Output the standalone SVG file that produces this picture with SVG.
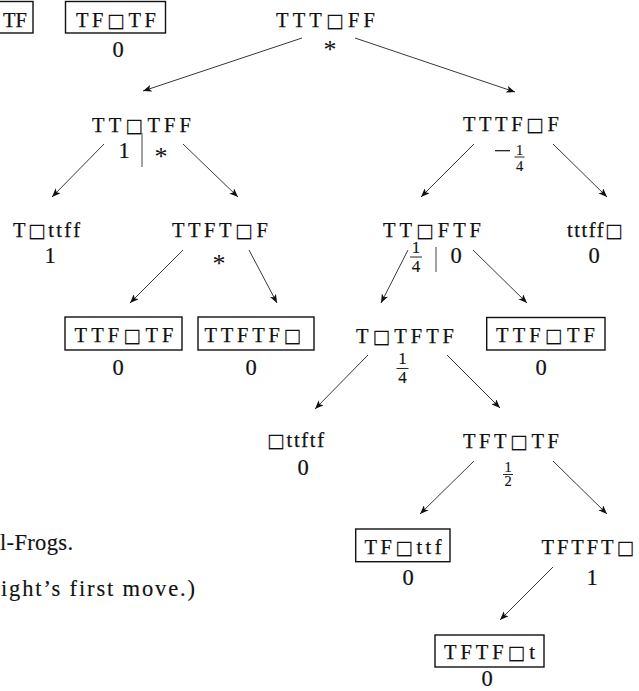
<svg xmlns="http://www.w3.org/2000/svg" width="639" height="691" viewBox="0 0 639 691">
<style>
.lb{font-family:"Liberation Serif","DejaVu Serif",serif;font-size:20.5px;fill:#111;stroke:#111;stroke-width:0.25;text-anchor:middle}
.sq{font-family:"DejaVu Sans",sans-serif;font-size:19px;stroke-width:0.1}
.v{font-family:"Liberation Serif","DejaVu Serif",serif;font-size:22.5px;fill:#111;stroke:#111;stroke-width:0.2;text-anchor:middle}
.ast{font-family:"Liberation Serif","DejaVu Serif",serif;font-size:26px;fill:#111;text-anchor:middle}
.fr{font-family:"Liberation Serif","DejaVu Serif",serif;font-size:17px;fill:#111;stroke:#111;stroke-width:0.15;text-anchor:middle}
.fs{font-family:"Liberation Serif","DejaVu Serif",serif;font-size:14.5px;fill:#111;stroke:#111;stroke-width:0.15;text-anchor:middle}
.cap{font-family:"Liberation Serif","DejaVu Serif",serif;font-size:22.5px;fill:#111;stroke:#111;stroke-width:0.15}
.box{fill:none;stroke:#111;stroke-width:1.4}
.bar{stroke:#444;stroke-width:1}
.fb{stroke:#111;stroke-width:0.9}
.e{stroke:#222;stroke-width:0.9;fill:none;marker-end:url(#ah)}
</style>
<defs>
<marker id="ah" viewBox="0 0 10 8" refX="10" refY="4" markerWidth="10" markerHeight="7" markerUnits="userSpaceOnUse" orient="auto">
<path d="M0,0 L10,4 L0,8 L2.5,4 z" fill="#111"/>
</marker>
</defs>
<g id="connectors">
<line class="e" x1="302" y1="38" x2="143" y2="91"/>
<line class="e" x1="355" y1="38" x2="515" y2="92"/>
<line class="e" x1="104" y1="144" x2="52" y2="197"/>
<line class="e" x1="183" y1="144" x2="238" y2="197"/>
<line class="e" x1="474" y1="144" x2="421" y2="197"/>
<line class="e" x1="553" y1="144" x2="607" y2="197"/>
<line class="e" x1="183" y1="250" x2="130" y2="303"/>
<line class="e" x1="249" y1="250" x2="277" y2="303"/>
<line class="e" x1="408" y1="250" x2="381" y2="303"/>
<line class="e" x1="473" y1="250" x2="527" y2="303"/>
<line class="e" x1="368" y1="355" x2="315" y2="409"/>
<line class="e" x1="447" y1="355" x2="500" y2="408"/>
<line class="e" x1="474" y1="461" x2="420" y2="514"/>
<line class="e" x1="553" y1="461" x2="607" y2="514"/>
<line class="e" x1="553" y1="567" x2="500" y2="620"/>
</g>
<g id="n-tf-partial">
<rect class="box" x="-10" y="1.5" width="43" height="31.5"/>
<text class="lb" x="27" y="27.3" style="text-anchor:end">TF</text>
</g>
<g id="n-tf-sq-tf">
<rect class="box" x="65.5" y="1.5" width="100" height="31.5"/>
<text class="lb" x="116" y="27.3" textLength="80" lengthAdjust="spacing">TF<tspan class="sq">□</tspan>TF</text>
<text class="v" x="118" y="57">0</text>
</g>
<g id="n-root">
<text class="lb" x="325.5" y="27" textLength="99" lengthAdjust="spacing">TTT<tspan class="sq">□</tspan>FF</text>
<text class="ast" x="330" y="58">*</text>
</g>
<g id="n-tt-sq-tff">
<text class="lb" x="141.5" y="131.5" textLength="99" lengthAdjust="spacing">TT<tspan class="sq">□</tspan>TFF</text>
<text class="v" x="124" y="158">1</text>
<line class="bar" x1="142" y1="133" x2="142" y2="167"/>
<text class="ast" x="161" y="165">*</text>
</g>
<g id="n-tttf-sq-f">
<text class="lb" x="511" y="131" textLength="96" lengthAdjust="spacing">TTTF<tspan class="sq">□</tspan>F</text>
<line class="fb" x1="495" y1="150.7" x2="510" y2="150.7" style="stroke-width:1.2"/>
<text class="fs"><tspan x="519.5" y="154.5">1</tspan><tspan x="519.5" y="170.5">4</tspan></text>
<line class="fb" x1="514.5" y1="157" x2="524.5" y2="157"/>
</g>
<g id="n-t-sq-ttff">
<text class="lb" x="46.5" y="236.7" textLength="67" lengthAdjust="spacing">T<tspan class="sq">□</tspan>ttff</text>
<text class="v" x="50" y="263">1</text>
</g>
<g id="n-ttft-sq-f">
<text class="lb" x="220" y="236.7" textLength="96" lengthAdjust="spacing">TTFT<tspan class="sq">□</tspan>F</text>
<text class="ast" x="219" y="272">*</text>
</g>
<g id="n-tt-sq-ftf">
<text class="lb" x="432" y="236.7" textLength="98" lengthAdjust="spacing">TT<tspan class="sq">□</tspan>FTF</text>
<text class="fr"><tspan x="416" y="253">1</tspan><tspan x="416" y="272">4</tspan></text>
<line class="fb" x1="410" y1="257" x2="422" y2="257"/>
<line class="bar" x1="436" y1="247" x2="436" y2="272"/>
<text class="v" x="456" y="263">0</text>
</g>
<g id="n-tttff-sq">
<text class="lb" x="595" y="236.7" textLength="56" lengthAdjust="spacing">tttff<tspan class="sq">□</tspan></text>
<text class="v" x="594" y="263">0</text>
</g>
<g id="n-ttf-sq-tf-a">
<rect class="box" x="65" y="317" width="117" height="33"/>
<text class="lb" x="124" y="341.7" textLength="99" lengthAdjust="spacing">TTF<tspan class="sq">□</tspan>TF</text>
<text class="v" x="118" y="375">0</text>
</g>
<g id="n-ttftf-sq">
<rect class="box" x="198" y="317" width="116" height="33"/>
<text class="lb" x="253" y="341.7" textLength="97" lengthAdjust="spacing">TTFTF<tspan class="sq">□</tspan></text>
<text class="v" x="251" y="375">0</text>
</g>
<g id="n-t-sq-tftf">
<text class="lb" x="405" y="342.5" textLength="98" lengthAdjust="spacing">T<tspan class="sq">□</tspan>TFTF</text>
<text class="fr"><tspan x="402.5" y="364">1</tspan><tspan x="402.5" y="383">4</tspan></text>
<line class="fb" x1="396.5" y1="368.5" x2="408.5" y2="368.5"/>
</g>
<g id="n-ttf-sq-tf-b">
<rect class="box" x="486.7" y="317.5" width="118.3" height="32.5"/>
<text class="lb" x="545.5" y="341.7" textLength="99" lengthAdjust="spacing">TTF<tspan class="sq">□</tspan>TF</text>
<text class="v" x="541" y="375">0</text>
</g>
<g id="n-sq-ttftf">
<text class="lb" x="295.5" y="446.7" textLength="57" lengthAdjust="spacing"><tspan class="sq">□</tspan>ttftf</text>
<text class="v" x="303" y="475">0</text>
</g>
<g id="n-tft-sq-tf">
<text class="lb" x="511" y="448" textLength="96" lengthAdjust="spacing">TFT<tspan class="sq">□</tspan>TF</text>
<text class="fs"><tspan x="508" y="472">1</tspan><tspan x="508" y="485.5">2</tspan></text>
<line class="fb" x1="503" y1="474.5" x2="513" y2="474.5"/>
</g>
<g id="n-tf-sq-ttf">
<rect class="box" x="355.7" y="529" width="94.3" height="32.7"/>
<text class="lb" x="403" y="554" textLength="77" lengthAdjust="spacing">TF<tspan class="sq">□</tspan>ttf</text>
<text class="v" x="408" y="585">0</text>
</g>
<g id="n-tftft-sq">
<text class="lb" x="588" y="554" textLength="93" lengthAdjust="spacing">TFTFT<tspan class="sq">□</tspan></text>
<text class="v" x="592" y="585">1</text>
</g>
<g id="n-tftf-sq-t">
<rect class="box" x="435" y="635" width="109" height="32"/>
<text class="lb" x="489.5" y="659" textLength="91" lengthAdjust="spacing">TFTF<tspan class="sq">□</tspan>t</text>
<text class="v" x="487" y="686">0</text>
</g>
<g id="caption">
<text class="cap" x="0" y="550" textLength="73" lengthAdjust="spacing">l-Frogs.</text>
<text class="cap" x="1" y="596" textLength="194" lengthAdjust="spacing">ight’s first move.)</text>
</g>
</svg>
